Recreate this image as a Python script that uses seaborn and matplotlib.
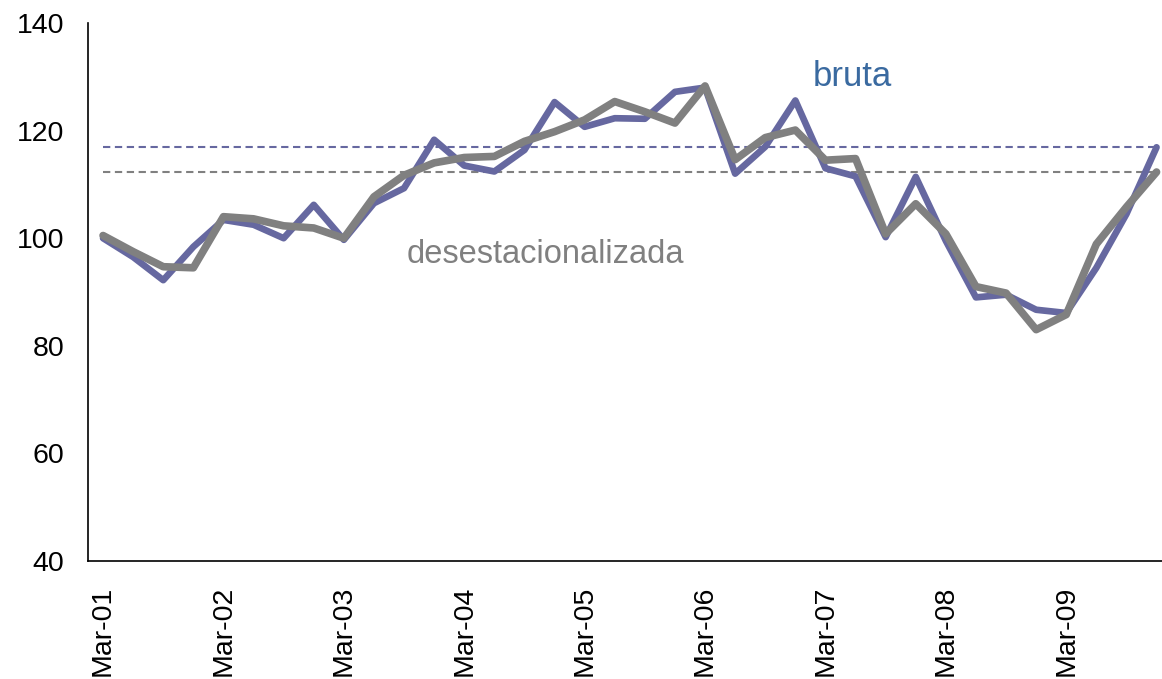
import numpy as np
import pandas as pd
import matplotlib
matplotlib.use('Agg')
import matplotlib.pyplot as plt
import seaborn as sns

# %% data (quarterly index, Mar-01 .. Dec-09)
bruta = [100.0, 96.5, 92.2, 98.4, 103.4, 102.5, 100.0, 106.2, 99.7, 106.5,
         109.3, 118.3, 113.5, 112.4, 116.4, 125.3, 120.7, 122.3, 122.2, 127.2,
         128.0, 112.0, 117.0, 125.6, 113.0, 111.5, 100.2, 111.4, 99.5, 89.0,
         89.5, 86.7, 86.1, 94.5, 104.5, 116.9]
desest = [100.5, 97.5, 94.7, 94.5, 104.0, 103.6, 102.3, 101.9, 100.0, 107.7,
          111.7, 114.0, 115.0, 115.2, 118.0, 119.8, 122.0, 125.4, 123.5, 121.4,
          128.3, 114.6, 118.7, 120.1, 114.5, 114.8, 100.8, 106.4, 100.8, 91.0,
          89.8, 83.0, 85.8, 98.9, 105.8, 112.3]
year_labels = ['Mar-01', 'Mar-02', 'Mar-03', 'Mar-04', 'Mar-05',
               'Mar-06', 'Mar-07', 'Mar-08', 'Mar-09']
y_ticks = [40, 60, 80, 100, 120, 140]

blue = '#6668A0'
gray = '#808080'

df = pd.DataFrame({'q': range(len(bruta)), 'bruta': bruta, 'desest': desest})

# %% plot
sns.set_style('white')
plt.rcParams['font.family'] = ['Liberation Sans', 'DejaVu Sans']
plt.rcParams['text.color'] = 'black'
plt.rcParams['xtick.labelcolor'] = 'black'
plt.rcParams['ytick.labelcolor'] = 'black'

W, H = 1162, 679
fig = plt.figure(figsize=(W / 100, H / 100), dpi=100)
nq = len(bruta)
ax = fig.add_axes([88 / W, 1 - 561 / H, nq * 30.1 / W, 538 / H])

sns.lineplot(data=df, x='q', y='bruta', color=blue, lw=4.8, ax=ax,
             solid_joinstyle='round', solid_capstyle='round', zorder=3)
sns.lineplot(data=df, x='q', y='desest', color=gray, lw=5.5, ax=ax,
             solid_joinstyle='round', solid_capstyle='round', zorder=4)

# reference lines at the latest value of each series
ax.hlines(bruta[-1], 0, nq - 1, colors=blue, lw=1.5, linestyles=(0, (3.5, 2.2)), zorder=2)
ax.hlines(desest[-1], 0, nq - 1, colors=gray, lw=1.5, linestyles=(0, (3.5, 2.2)), zorder=2)

ax.set_xlim(-0.5, nq - 0.5)
ax.set_ylim(40, 140)
ax.set_yticks(y_ticks)
ax.set_xticks(np.arange(-0.5, nq, 1.0))
ax.set_xticklabels([])
ax.set_xticks(np.arange(0, nq, 4), minor=True)
ax.set_xticklabels(year_labels, minor=True, rotation=90, fontsize=20.5)
ax.tick_params(axis='x', which='major', direction='out', length=6, width=1,
               color='#A0A0A0')
ax.tick_params(axis='x', which='minor', length=0, pad=18)
ax.tick_params(axis='y', direction='out', length=6, width=1, color='#A0A0A0',
               labelsize=20.5, pad=11)
ax.set_xlabel('')
ax.set_ylabel('')

for s in ['top', 'right']:
    ax.spines[s].set_visible(False)
for s in ['left', 'bottom']:
    ax.spines[s].set_color('black')
    ax.spines[s].set_linewidth(1.2)

fig.text(813 / W, 1 - 86 / H, 'bruta', fontsize=25, color='#3A6AA0')
fig.text(407 / W, 1 - 263 / H, 'desestacionalizada', fontsize=23.5, color=gray)

fig.savefig('out.png', dpi=100)
